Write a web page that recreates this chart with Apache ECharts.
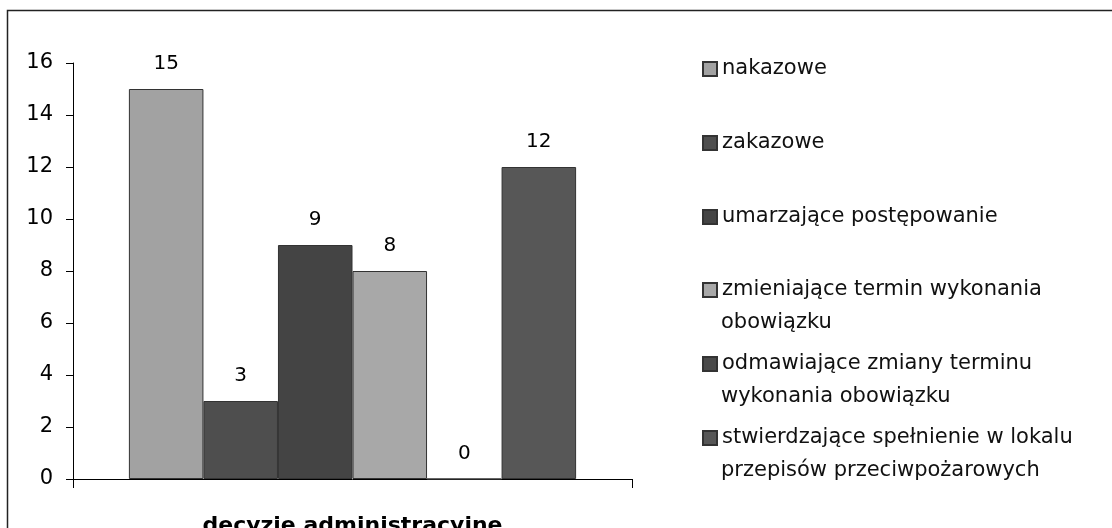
<!DOCTYPE html>
<html><head><meta charset="utf-8">
<script src="https://cdn.jsdelivr.net/npm/echarts@6/dist/echarts.min.js"></script>
<style>html,body{margin:0;padding:0;background:#fff}#c{width:1112px;height:528px}</style>
</head><body><div id="c"></div>
<script>
const categories = ['decyzje administracyjne'];
const seriesNames = [
  'nakazowe',
  'zakazowe',
  'umarzające postępowanie',
  'zmieniające termin wykonania\nobowiązku',
  'odmawiające zmiany terminu\nwykonania obowiązku',
  'stwierdzające spełnienie w lokalu\nprzepisów przeciwpożarowych'
];
const seriesValues = [[15], [3], [9], [8], [0], [12]];
const yTicks = { min: 0, max: 16, interval: 2 };

const colors = ['#a2a2a2', '#4e4e4e', '#444444', '#a8a8a8', '#4a4a4a', '#575757'];
const FONT = 'DejaVu Sans';
const legendCenters = [69, 143, 217, 290, 364, 438];
const LH = 33;

const legends = [];
seriesNames.forEach((n, i) => {
  const lines = n.split('\n');
  lines.forEach((ln, k) => {
    legends.push({
      data: [n], orient: 'vertical', left: 702, top: legendCenters[i] - LH / 2 + k * LH, padding: 0,
      itemWidth: 14, itemHeight: 14, icon: k === 0 ? 'rect' : 'none', selectedMode: false,
      formatter: () => ln,
      textStyle: { fontFamily: FONT, fontSize: 21, color: '#111', lineHeight: LH }
    });
  });
});

const chart = echarts.init(document.getElementById('c'));
const option = {
  animation: false,
  textStyle: { fontFamily: FONT },
  grid: { left: 73, right: 480, top: 63, bottom: 49, containLabel: false, outerBoundsMode: 'none' },
  graphic: [{
    type: 'rect', shape: { x: 7.5, y: 10.5, width: 1300, height: 700 },
    style: { fill: 'none', stroke: '#222', lineWidth: 1.5 }, silent: true
  }],
  legend: legends,
  xAxis: {
    type: 'category', data: categories,
    axisLine: { lineStyle: { color: '#000', width: 1 } },
    axisTick: { show: true, length: 9, lineStyle: { color: '#000' } },
    axisLabel: { margin: 36, fontSize: 22, fontWeight: 'bold', color: '#000', fontFamily: FONT }
  },
  yAxis: {
    type: 'value', min: yTicks.min, max: yTicks.max, interval: yTicks.interval,
    splitLine: { show: false },
    axisLine: { show: true, lineStyle: { color: '#000', width: 1 } },
    axisTick: { show: true, length: 7, lineStyle: { color: '#000' } },
    axisLabel: { margin: 20, fontSize: 21, color: '#000', fontFamily: FONT }
  },
  series: seriesNames.map((n, i) => ({
    type: 'bar', name: n, data: seriesValues[i],
    barGap: '0%', barCategoryGap: '20%',
    itemStyle: { color: colors[i], borderColor: '#333', borderWidth: 1 },
    label: { show: true, position: 'top', distance: 15, fontSize: 20, color: '#000', fontFamily: FONT }
  }))
};
chart.setOption(option);
</script></body></html>
